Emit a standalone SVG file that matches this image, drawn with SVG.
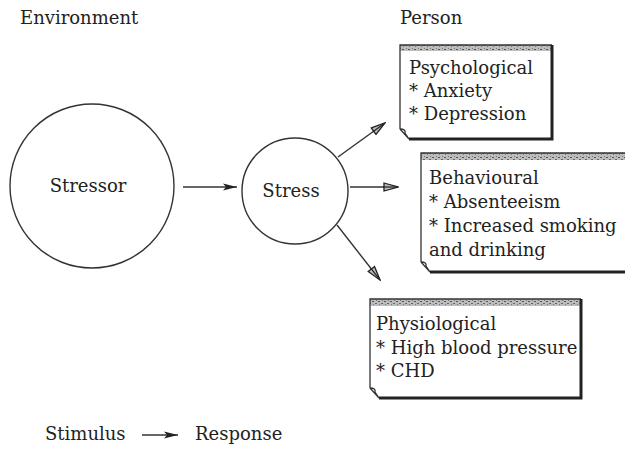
<svg xmlns="http://www.w3.org/2000/svg" width="625" height="450" viewBox="0 0 625 450">
  <style>
    text { font-family: "DejaVu Serif", "Liberation Serif", serif; font-size: 18px; fill: #222; }
    .circle { fill: none; stroke: #333; stroke-width: 1.4; }
    .thin { fill: none; stroke: #333; stroke-width: 1.3; }
    .thick { fill: none; stroke: #222; stroke-width: 3; }
    .band { fill: url(#hatch); }
    .conn { stroke: #333; stroke-width: 1.4; fill: none; }
  </style>
  <defs>
    <pattern id="hatch" width="6" height="6" patternUnits="userSpaceOnUse">
      <rect width="6" height="6" fill="#bdbdbd"/>
      <rect x="0" y="1" width="2" height="1" fill="#555"/>
      <rect x="3" y="3" width="2" height="1" fill="#666"/>
      <rect x="1" y="4" width="1" height="1" fill="#777"/>
      <rect x="4" y="0" width="1" height="1" fill="#777"/>
    </pattern>
    <marker id="solid" viewBox="0 0 14 8" refX="14" refY="4" markerWidth="14" markerHeight="8" markerUnits="userSpaceOnUse" orient="auto">
      <path d="M0,0.5 L14,4 L0,7.5 L3,4 z" fill="#222"/>
    </marker>
    <marker id="open" viewBox="0 0 16 10" refX="15" refY="5" markerWidth="16" markerHeight="10" markerUnits="userSpaceOnUse" orient="auto">
      <path d="M1,1 L15,5 L1,9 z" fill="#bbb" stroke="#222" stroke-width="1.3"/>
      <path d="M0,5 L13,5" stroke="#222" stroke-width="1.2"/>
    </marker>
  </defs>

  <!-- headings -->
  <text x="20" y="24">Environment</text>
  <text x="400" y="24">Person</text>

  <!-- stressor -->
  <g id="stressor">
    <circle class="circle" cx="92" cy="186" r="82"/>
    <text x="88" y="192" text-anchor="middle">Stressor</text>
  </g>

  <!-- stress -->
  <g id="stress">
    <circle class="circle" cx="295" cy="191" r="53"/>
    <text x="291" y="197" text-anchor="middle">Stress</text>
  </g>

  <!-- psychological outcome note -->
  <g id="psychological">
    <rect class="band" x="400" y="45" width="152" height="6"/>
    <path class="thin" d="M400,129 L400,45 L552,45"/>
    <path class="thin" d="M400,129 L409,139 M400,129 Q406,129 405,133 L409,139"/>
    <path class="thick" d="M409,139 L552,139 L552,45"/>
    <text x="409" y="74">Psychological</text>
    <text x="409" y="97">* Anxiety</text>
    <text x="409" y="120">* Depression</text>
  </g>

  <!-- behavioural outcome note -->
  <g id="behavioural">
    <rect class="band" x="421" y="153" width="210" height="7"/>
    <path class="thin" d="M421,262 L421,153 L630,153"/>
    <path class="thin" d="M421,262 L430,272 M421,262 Q427,262 426,266 L430,272"/>
    <path class="thick" d="M430,272 L630,272"/>
    <text x="429" y="184">Behavioural</text>
    <text x="429" y="208">* Absenteeism</text>
    <text x="429" y="232">* Increased smoking</text>
    <text x="429" y="256">and drinking</text>
  </g>

  <!-- physiological outcome note -->
  <g id="physiological">
    <rect class="band" x="370" y="299" width="211" height="7"/>
    <path class="thin" d="M370,388 L370,299 L581,299"/>
    <path class="thin" d="M370,388 L379,398 M370,388 Q376,388 375,392 L379,398"/>
    <path class="thick" d="M379,398 L581,398 L581,299"/>
    <text x="376" y="330">Physiological</text>
    <text x="376" y="354">* High blood pressure</text>
    <text x="376" y="377">* CHD</text>
  </g>

  <!-- connectors -->
  <g id="connectors">
    <line class="conn" x1="183" y1="187" x2="237" y2="187" marker-end="url(#solid)"/>
    <line class="conn" x1="338" y1="157" x2="385" y2="123" marker-end="url(#open)"/>
    <line class="conn" x1="350" y1="187" x2="398" y2="187" marker-end="url(#open)"/>
    <line class="conn" x1="337" y1="225" x2="380" y2="280" marker-end="url(#open)"/>
  </g>

  <!-- legend -->
  <g id="legend">
    <text x="45" y="440">Stimulus</text>
    <line class="conn" x1="142" y1="435" x2="178" y2="435" marker-end="url(#solid)"/>
    <text x="195" y="440">Response</text>
  </g>
</svg>
